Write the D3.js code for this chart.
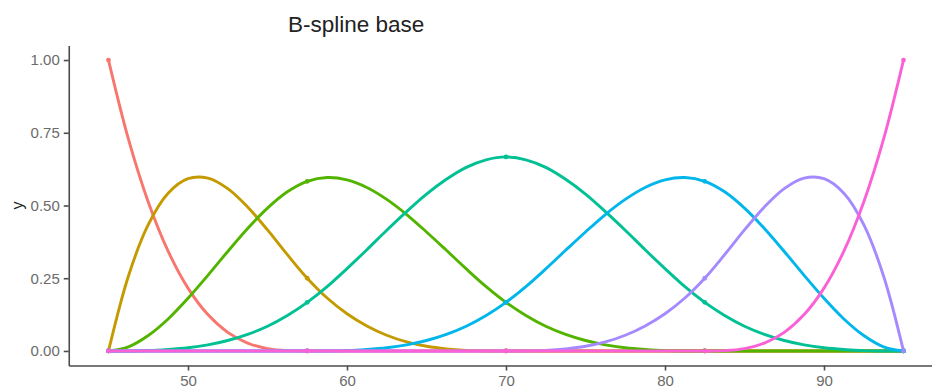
<!DOCTYPE html>
<html>
<head>
<meta charset="utf-8">
<script src="https://cdn.jsdelivr.net/npm/d3@7"></script>
<style>
  body { margin: 0; background: #fff; }
  svg { display: block; font-family: "Liberation Sans", Arial, sans-serif; }
  .axis path, .axis line { stroke: #4d4d4d; stroke-width: 1.6; }
  .axis text { fill: #6b6b6b; font-size: 15px; }
</style>
</head>
<body>
<div id="chart"></div>
<script>
// x positions of the sampled points (every 1.25)
var xs = [45, 46.25, 47.5, 48.75, 50, 51.25, 52.5, 53.75, 55, 56.25, 57.5, 58.75, 60, 61.25, 62.5, 63.75, 65, 66.25, 67.5, 68.75,
          70, 71.25, 72.5, 73.75, 75, 76.25, 77.5, 78.75, 80, 81.25, 82.5, 83.75, 85, 86.25, 87.5, 88.75, 90, 91.25, 92.5, 93.75, 95];

// knot positions, marked with points
var knots = [45, 57.5, 70, 82.5, 95];

// values
var b1 = [1, .729, .512, .343, .216, .125, .064, .027, .008, .001, 0, 0, 0, 0, 0, 0, 0, 0, 0, 0,
          0, 0, 0, 0, 0, 0, 0, 0, 0, 0, 0, 0, 0, 0, 0, 0, 0, 0, 0, 0, 0];
var b2 = [0, .257, .434, .542, .592, .594, .558, .495, .416, .331, .25, .182, .128, .086, .054, .031, .016, .007, .002, 0,
          0, 0, 0, 0, 0, 0, 0, 0, 0, 0, 0, 0, 0, 0, 0, 0, 0, 0, 0, 0, 0];
var b3 = [0, .014, .053, .110, .181, .260, .342, .421, .491, .547, .583, .596, .588, .562, .521, .469, .409, .346, .282, .221,
          .167, .122, .085, .057, .036, .021, .011, .005, .001, 0, 0, 0, 0, 0, 0, 0, 0, 0, 0, 0, 0];
var b4 = [0, 0, .001, .005, .011, .021, .036, .057, .085, .122, .167, .221, .283, .348, .415, .479, .539, .590, .631, .657,
          .667, .657, .631, .590, .539, .479, .415, .348, .283, .221, .167, .122, .085, .057, .036, .021, .011, .005, .001, 0, 0];
var b5 = [0, 0, 0, 0, 0, 0, 0, 0, 0, 0, 0, 0, .001, .005, .011, .021, .036, .057, .085, .122,
          .167, .221, .282, .346, .409, .469, .521, .562, .588, .596, .583, .547, .491, .421, .342, .260, .181, .110, .053, .014, 0];
var b6 = [0, 0, 0, 0, 0, 0, 0, 0, 0, 0, 0, 0, 0, 0, 0, 0, 0, 0, 0, 0,
          0, 0, .002, .007, .016, .031, .054, .086, .128, .182, .25, .331, .416, .495, .558, .594, .592, .542, .434, .257, 0];
var b7 = [0, 0, 0, 0, 0, 0, 0, 0, 0, 0, 0, 0, 0, 0, 0, 0, 0, 0, 0, 0,
          0, 0, 0, 0, 0, 0, 0, 0, 0, 0, 0, .001, .008, .027, .064, .125, .216, .343, .512, .729, 1];

var seriesList = [b1, b2, b3, b4, b5, b6, b7];
var colors = ["#F8766D", "#C49A00", "#53B400", "#00C094", "#00B6EB", "#A58AFF", "#FB61D7"];

var xTicks = [50, 60, 70, 80, 90];
var yTicks = [0, 0.25, 0.5, 0.75, 1];

var width = 932, height = 388;

var svg = d3.select("#chart").append("svg")
    .attr("width", width)
    .attr("height", height);

var x = d3.scaleLinear().domain([42.5, 97.5]).range([68.75, 943.25]);
var y = d3.scaleLinear().domain([-0.05, 1.05]).range([365.5, 45.5]);

// axes
svg.append("g")
    .attr("class", "axis")
    .attr("transform", "translate(0," + y(-0.05) + ")")
    .call(d3.axisBottom(x).tickValues(xTicks).tickSize(5).tickPadding(5).tickSizeOuter(0))
    .call(function (g) { g.selectAll("text").attr("dy", "0.68em"); });

svg.append("g")
    .attr("class", "axis")
    .attr("transform", "translate(" + x(42.5) + ",0)")
    .call(d3.axisLeft(y).tickValues(yTicks).tickFormat(d3.format(".2f")).tickSize(5).tickPadding(4).tickSizeOuter(0));

// lines
var line = d3.line()
    .x(function (d) { return x(d[0]); })
    .y(function (d) { return y(d[1]); })
    .curve(d3.curveCatmullRom.alpha(0.5));

seriesList.forEach(function (vals, i) {
    var pts = xs.map(function (xv, j) { return [xv, vals[j]]; });

    svg.append("path")
        .datum(pts)
        .attr("fill", "none")
        .attr("stroke", colors[i])
        .attr("stroke-width", 2.9)
        .attr("stroke-linejoin", "round")
        .attr("d", line);

    svg.append("g").selectAll("circle")
        .data(pts.filter(function (d) { return knots.indexOf(d[0]) >= 0; }))
        .join("circle")
        .attr("cx", function (d) { return x(d[0]); })
        .attr("cy", function (d) { return y(d[1]); })
        .attr("r", 2.4)
        .attr("fill", colors[i]);
});

// title
svg.append("text")
    .attr("x", 288)
    .attr("y", 31.5)
    .attr("font-size", "22.5px")
    .attr("fill", "#222")
    .text("B-spline base");

// y label
svg.append("text")
    .attr("transform", "translate(23," + y(0.5) + ") rotate(-90)")
    .attr("text-anchor", "middle")
    .attr("font-size", "16px")
    .attr("fill", "#222")
    .text("y");
</script>
</body>
</html>
